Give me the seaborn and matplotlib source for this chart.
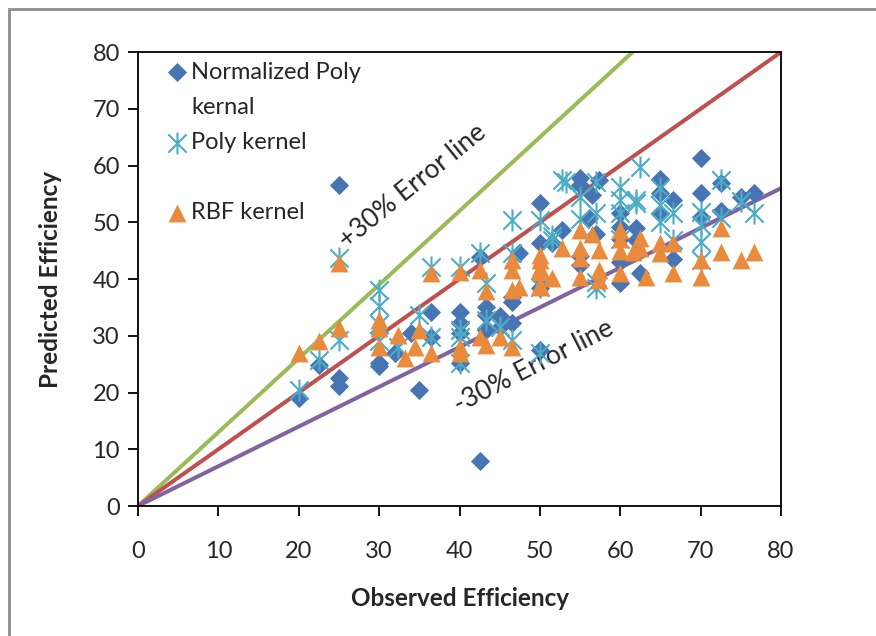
import numpy as np
import pandas as pd
import seaborn as sns
import matplotlib.pyplot as plt
from matplotlib.path import Path
from matplotlib.patches import Rectangle
from matplotlib.lines import Line2D

# observed / predicted efficiency
norm_poly_x = [20, 22.5, 25, 25, 25, 30, 30, 32, 34, 35, 36.5, 36.5, 40, 40, 40, 40,
               42.5, 42.5, 43.3, 43.3, 43.3, 45, 45, 46.5, 46.5, 46.5, 47.4,
               50, 50, 50, 50, 50, 51.5, 52.8, 55, 55, 55, 55, 56.5, 57.4, 56.1, 57,
               60, 60, 60, 60, 60, 62, 62, 62.4, 65, 65, 65, 66.6, 66.6,
               70, 70, 70, 72.5, 72.5, 75, 76.6]
norm_poly_y = [19, 24.8, 56.5, 22.5, 21.2, 25.2, 24.6, 27, 30.5, 20.5, 34.2, 29.8, 34.2, 32.2, 25.2, 30.5,
               8, 43.9, 35.1, 33.7, 31, 33.4, 31.5, 36.9, 35.9, 32.2, 44.6,
               53.4, 46.3, 40, 38.5, 27.5, 46.3, 48.6, 57.8, 56.5, 44, 42.5, 54.8, 57.4, 50.7, 48,
               51.6, 49.2, 47, 39.3, 43, 46.9, 49, 41, 57.6, 55.1, 51.6, 54, 43.5,
               61.4, 55.1, 50.9, 56.9, 52, 54.5, 55.1]

poly_x = [20, 22.5, 25, 25, 30, 30, 30, 30, 32.4, 35, 36.5, 36.5, 40, 40, 40, 40,
          42.5, 43.3, 43.3, 45, 46.5, 46.5, 46.5, 50, 50, 50, 51.5, 51.5, 52.8, 53.2,
          55, 55, 57, 57, 57, 57, 60, 60, 60, 60, 62, 62.4, 62, 65, 65, 65, 66.6, 66.6,
          70, 70, 70, 70, 72.5, 72.5, 75, 76.6]
poly_y = [20.4, 25.7, 43.7, 29.2, 38, 35.3, 29, 32, 28.1, 33.6, 42.2, 29.8, 42.2, 29.8, 25.2, 31,
          44.6, 39.3, 32.8, 31.6, 50.4, 44.6, 29.3, 50.4, 38.6, 26.9, 47.5, 46.9, 57.4, 57.1,
          54.5, 50.5, 57.1, 51.6, 38.5, 39.5, 56.3, 54, 51.6, 47, 53.4, 59.8, 54, 56, 53, 50, 51.6, 46.9,
          51.8, 49.5, 46.6, 43.3, 57.5, 50.7, 53.7, 51.6]

rbf_x = [20, 22.5, 25, 25, 30, 30, 30, 32.4, 33.2, 35, 34.5, 36.5, 36.5, 40, 40, 40,
         42.5, 43.3, 42.5, 43.3, 45, 46.5, 46.5, 46.5, 46.5, 47.4,
         50, 50, 50, 50, 50, 50, 51.5, 52.8, 55, 55, 55, 55, 56.5, 57.4, 57.4, 57.4,
         60, 60, 60, 60, 62.4, 62.4, 61.6, 63.2, 65, 65, 66.6, 66.6,
         70, 70, 72.5, 72.5, 75, 76.6]
rbf_y = [26.9, 29, 42.8, 31.4, 32.8, 31.3, 28.1, 30.1, 26, 31, 28.1, 26.9, 41, 41.3, 28.1, 26.9,
         41.6, 37.8, 29.8, 28.4, 29.8, 28.1, 43.3, 41.6, 38, 38.6,
         43.3, 44.2, 41.3, 42, 39, 38.6, 40.2, 45.4, 48.6, 45.4, 43.7, 40.4, 48, 45.1, 41.6, 39.9,
         48.6, 47, 41, 45, 47.2, 45.4, 44.8, 40.4, 46.3, 44.5, 46.3, 41,
         43.3, 40.4, 49, 44.8, 43.3, 44.8]

line_x = [0, 80]
error_factors = [1.3, 1.0, 0.7]
error_colors = ["#9BBB59", "#C0504D", "#8064A2"]

# excel style "star" marker: an x with a vertical bar
star = Path(
    [(-0.5, -0.5), (0.5, 0.5), (-0.5, 0.5), (0.5, -0.5), (0, -0.6), (0, 0.6)],
    [Path.MOVETO, Path.LINETO, Path.MOVETO, Path.LINETO, Path.MOVETO, Path.LINETO],
)


def main():
    sns.set_style("white")
    plt.rcParams["font.family"] = ["Lato", "DejaVu Sans"]

    fig = plt.figure(figsize=(8.76, 6.36), dpi=100)
    ax = fig.add_axes([0.1575, 0.2044, 0.7341, 0.7138])

    for f, c in zip(error_factors, error_colors):
        ys = [f * v for v in line_x]
        ax.plot(line_x, ys, color=c, lw=2.9, zorder=1, solid_capstyle="butt")

    d1 = pd.DataFrame({"x": norm_poly_x, "y": norm_poly_y})
    d2 = pd.DataFrame({"x": poly_x, "y": poly_y})
    d3 = pd.DataFrame({"x": rbf_x, "y": rbf_y})

    sns.scatterplot(data=d1, x="x", y="y", marker="D", s=95, color="#4774B2",
                    edgecolor="#4774B2", linewidth=0, ax=ax, zorder=3,
                    label="Normalized Poly")
    sns.scatterplot(data=d2, x="x", y="y", marker=star, s=250, color="#4BACC6",
                    edgecolor="#4BACC6", linewidth=1.5, ax=ax, zorder=4,
                    label="Poly kernel")
    sns.scatterplot(data=d3, x="x", y="y", marker="^", s=165, color="#E98A3C",
                    edgecolor="#E98A3C", linewidth=0, ax=ax, zorder=5,
                    label="RBF kernel")

    ax.set_xlim(0, 80)
    ax.set_ylim(0, 80)
    ax.set_xticks(range(0, 81, 10))
    ax.set_yticks(range(0, 81, 10))
    ax.tick_params(axis="both", labelsize=17, direction="out", length=7, width=1.3,
                   color="black", pad=6, bottom=True, left=True)
    ax.tick_params(axis="x", pad=18)
    for s in ax.spines.values():
        s.set_color("black")
        s.set_linewidth(1.3)

    ax.set_xlabel("Observed Efficiency", fontsize=17.5, fontweight="bold", labelpad=18)
    ax.set_ylabel("Predicted Efficiency", fontsize=17.5, fontweight="bold", labelpad=22)

    # legend rows as in the source: second line of the first label, blank row
    h, l = ax.get_legend_handles_labels()
    blank = Line2D([], [], linestyle="none")
    handles = [h[0], blank, h[1], blank, h[2]]
    labels = [l[0], "kernal", l[1], " ", l[2]]
    ax.legend(handles, labels, loc="upper left", bbox_to_anchor=(0.0425, 0.979),
              frameon=False, fontsize=17, handletextpad=0.1, labelspacing=0.6,
              handlelength=1.0, borderaxespad=0, borderpad=0)

    ax.text(34.2, 56.4, "+30% Error line", rotation=39, fontsize=19,
            ha="center", va="center", rotation_mode="anchor")
    ax.text(49.3, 24.6, "-30% Error line", rotation=27, fontsize=19,
            ha="center", va="center", rotation_mode="anchor")

    fig.patches.append(Rectangle((9 / 876, -0.1), 1.2, 1 - 9 / 636 + 0.1,
                                 transform=fig.transFigure, fill=False,
                                 edgecolor="#8C8C8C", lw=2))

    fig.savefig("out.png", dpi=100)
    plt.close(fig)


if __name__ == "__main__":
    main()
